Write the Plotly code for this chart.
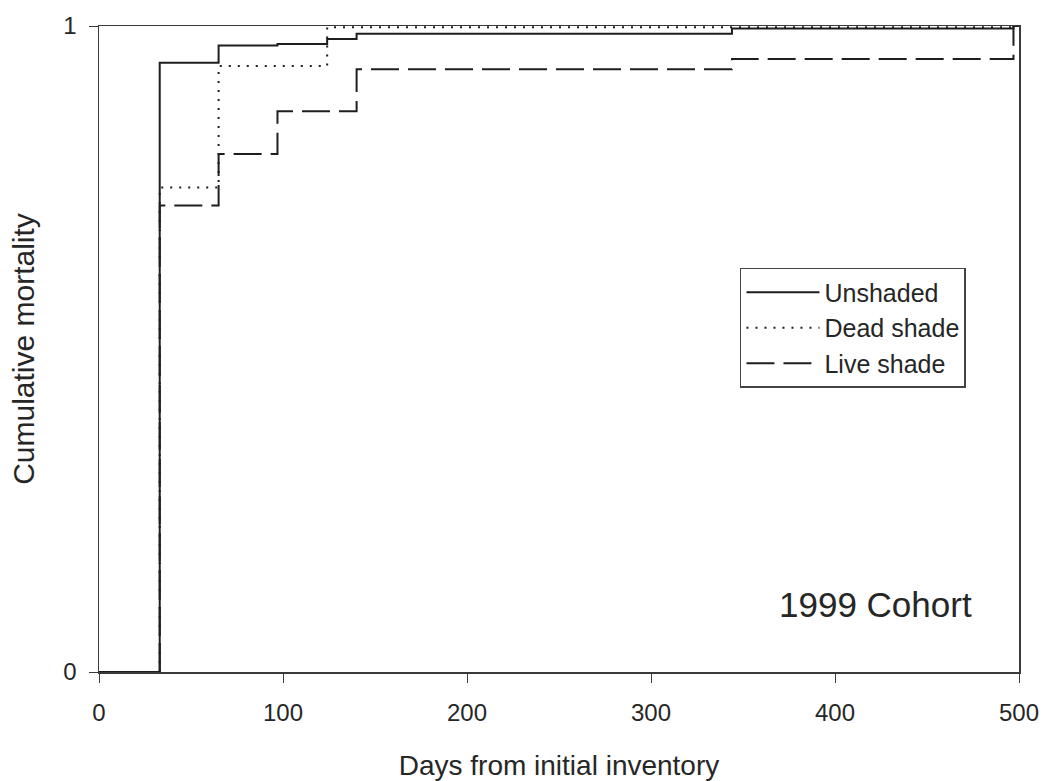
import plotly.graph_objects as go

# Data (days, cumulative mortality)
unshaded_days = [0, 33, 65, 97, 124, 140, 344, 497, 500]
unshaded_mort = [0.0, 0.943, 0.970, 0.972, 0.980, 0.988, 0.996, 1.0, 1.0]

dead_days = [33, 33, 65, 124, 497, 500]
dead_mort = [0.0, 0.750, 0.938, 0.998, 1.0, 1.0]

live_days = [33, 33, 65, 97, 140, 344, 497, 500]
live_mort = [0.0, 0.722, 0.802, 0.868, 0.933, 0.949, 1.0, 1.0]

x_ticks = [0, 100, 200, 300, 400, 500]
y_ticks = [0, 1]

ink = "#1e1e1e"
axis_ink = "#3a3a3a"
txt = "#262626"
font_family = "Liberation Sans, Arial, sans-serif"

fig = go.Figure()
fig.add_trace(go.Scatter(x=unshaded_days, y=unshaded_mort, mode="lines", name="Unshaded",
                         line=dict(color=ink, width=2, shape="hv")))
fig.add_trace(go.Scatter(x=dead_days, y=dead_mort, mode="lines", name="Dead shade",
                         line=dict(color=ink, width=2, shape="hv", dash="2px,7px")))
fig.add_trace(go.Scatter(x=live_days, y=live_mort, mode="lines", name="Live shade",
                         line=dict(color=ink, width=2, shape="hv", dash="28px,9px")))

fig.add_annotation(x=422, y=0.104, text="1999 Cohort", showarrow=False,
                   xref="x", yref="y", font=dict(size=35, color=txt, family=font_family))

fig.update_layout(
    width=1044, height=781,
    margin=dict(l=99, r=25, t=26, b=109, autoexpand=False),
    paper_bgcolor="white", plot_bgcolor="white",
    font=dict(family=font_family, color=txt, size=24),
    hovermode=False,
    legend=dict(x=0.6967, y=0.6254, xanchor="left", yanchor="top",
                bordercolor="#444444", borderwidth=1.5, bgcolor="white",
                font=dict(size=25, color=txt), tracegroupgap=0,
                itemwidth=73),
    xaxis=dict(range=[0, 500], tickvals=x_ticks, ticktext=[str(v) for v in x_ticks],
               showline=True, linecolor=axis_ink, linewidth=1.5, mirror=True,
               ticks="outside", ticklen=9, tickcolor=axis_ink, showgrid=False, zeroline=False,
               automargin=False, ticklabelstandoff=10,
               title=dict(text="Days from initial inventory", font=dict(size=28), standoff=40),
               tickfont=dict(size=24)),
    yaxis=dict(range=[0, 1], tickvals=y_ticks, ticktext=["0", "1"],
               showline=True, linecolor=axis_ink, linewidth=1.5, mirror=True,
               ticks="outside", ticklen=9, tickcolor=axis_ink, showgrid=False, zeroline=False,
               automargin=False, ticklabelstandoff=7,
               title=dict(text="Cumulative mortality", font=dict(size=30), standoff=20),
               tickfont=dict(size=24)),
)

# remove the default page margin / scrollbars so the figure fills the window exactly
fig.write_html("out.html",
               config={"displayModeBar": False, "staticPlot": True},
               post_script="document.body.style.margin='0px';document.body.style.overflow='hidden';")
